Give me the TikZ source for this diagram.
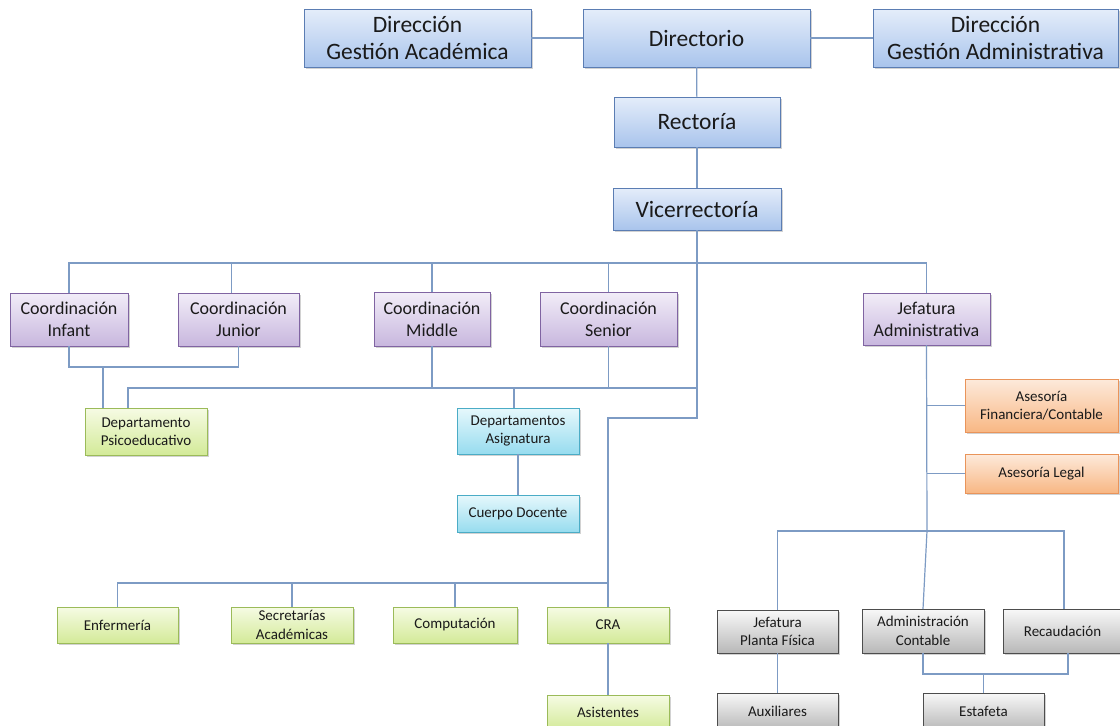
\documentclass[tikz,border=0pt]{standalone}
\usepackage{fontspec}
\setmainfont{Carlito}
\usetikzlibrary{shadows}
\definecolor{lnc}{HTML}{7D9BC4}
\definecolor{txt}{HTML}{1A1A1A}
\definecolor{blued}{HTML}{5B7DB3}
\definecolor{bluetop}{HTML}{E4EDFA}
\definecolor{bluebot}{HTML}{A9C4EC}
\definecolor{purpd}{HTML}{8064A2}
\definecolor{purpt}{HTML}{F2EDF8}
\definecolor{purpb}{HTML}{C8B7DE}
\definecolor{greend}{HTML}{9BBB59}
\definecolor{greent}{HTML}{F6FBE4}
\definecolor{greenb}{HTML}{D3EA98}
\definecolor{cyand}{HTML}{4BACC6}
\definecolor{cyant}{HTML}{E6F8FC}
\definecolor{cyanb}{HTML}{97DCEF}
\definecolor{orad}{HTML}{E9945A}
\definecolor{orat}{HTML}{FDEADB}
\definecolor{orab}{HTML}{F8B784}
\definecolor{grayd}{HTML}{4D4D4D}
\definecolor{grayt}{HTML}{F8F8F8}
\definecolor{grayb}{HTML}{B8B8B8}
\tikzset{
  box/.style={draw, line width=0.8pt, inner sep=0pt, outer sep=0pt, align=center, text=txt,
    drop shadow={shadow xshift=1.5pt, shadow yshift=-2pt, opacity=0.35}},
  bluebox/.style={box, draw=blued, top color=bluetop, bottom color=bluebot, font=\fontsize{23.5}{28}\selectfont},
  purplebox/.style={box, draw=purpd, top color=purpt, bottom color=purpb, font=\fontsize{18}{22}\selectfont},
  greenbox/.style={box, draw=greend, top color=greent, bottom color=greenb, font=\fontsize{15}{18.5}\selectfont},
  cyanbox/.style={box, draw=cyand, top color=cyant, bottom color=cyanb, font=\fontsize{15}{18.5}\selectfont},
  orangebox/.style={box, draw=orad, top color=orat, bottom color=orab, font=\fontsize{15}{18.5}\selectfont},
  graybox/.style={box, draw=grayd, top color=grayt, bottom color=grayb, font=\fontsize{15}{18.5}\selectfont},
  conn/.style={draw=lnc, line width=1.2pt}
}
\begin{document}
\begin{tikzpicture}[x=1pt,y=-1pt]
\fill[white] (0,0) rectangle (1120,726);
\useasboundingbox (0,0) rectangle (1120,726);
% blue
\node[bluebox, minimum width=227pt, minimum height=58pt] (dga) at (417.5,38) {Dirección\\Gestión Académica};
\node[bluebox, minimum width=227pt, minimum height=58pt] (dir) at (696.5,38) {Directorio};
\node[bluebox, minimum width=245pt, minimum height=58pt] (dgad) at (995.5,38) {Dirección\\Gestión Administrativa};
\node[bluebox, minimum width=166pt, minimum height=50pt] (rec) at (697,122) {Rectoría};
\node[bluebox, minimum width=168pt, minimum height=42pt] (vic) at (697,209) {Vicerrectoría};
% purple
\node[purplebox, minimum width=118pt, minimum height=53pt] (infant) at (69,319.5) {Coordinación\\Infant};
\node[purplebox, minimum width=121pt, minimum height=53pt] (junior) at (238.5,319.5) {Coordinación\\Junior};
\node[purplebox, minimum width=116pt, minimum height=54pt] (middle) at (432,319) {Coordinación\\Middle};
\node[purplebox, minimum width=137pt, minimum height=54pt] (senior) at (608.5,319) {Coordinación\\Senior};
\node[purplebox, minimum width=127pt, minimum height=52pt] (jefadm) at (926.5,319) {Jefatura\\Administrativa};
% green / cyan / orange
\node[greenbox, minimum width=122pt, minimum height=47pt] (psico) at (146,431.5) {Departamento\\Psicoeducativo};
\node[cyanbox, minimum width=122pt, minimum height=46pt] (depasig) at (518,431) {Departamentos\\Asignatura};
\node[cyanbox, minimum width=122pt, minimum height=37pt] (cuerpo) at (518,513.5) {Cuerpo Docente};
\node[orangebox, minimum width=153pt, minimum height=53pt] (asfin) at (1041.5,405.5) {Asesoría\\Financiera/Contable};
\node[orangebox, minimum width=153pt, minimum height=39pt] (aslegal) at (1041.5,473.5) {Asesoría Legal};
\node[greenbox, minimum width=121pt, minimum height=36pt] (enf) at (117.5,625) {Enfermería};
\node[greenbox, minimum width=122pt, minimum height=36pt] (sec) at (292,625) {Secretarías\\Académicas};
\node[greenbox, minimum width=124pt, minimum height=36pt] (comp) at (455,625) {Computación};
\node[greenbox, minimum width=122pt, minimum height=36pt] (cra) at (608,625) {CRA};
\node[greenbox, minimum width=122pt, minimum height=35pt] (asis) at (608,712.5) {Asistentes};
% gray
\node[graybox, minimum width=121pt, minimum height=43pt] (jpf) at (777.5,631.5) {Jefatura\\Planta Física};
\node[graybox, minimum width=122pt, minimum height=44pt] (admc) at (923,631) {Administración\\Contable};
\node[graybox, minimum width=119pt, minimum height=44pt] (recaud) at (1062.5,631) {Recaudación};
\node[graybox, minimum width=121pt, minimum height=37pt] (aux) at (777.5,711.5) {Auxiliares};
\node[graybox, minimum width=121pt, minimum height=37pt] (estaf) at (983.5,711.5) {Estafeta};
% helper coordinates
\coordinate (h263) at (0,263);
\coordinate (m388) at (697,388);
\coordinate (m418) at (697,418);
\coordinate (b583) at (608,583);
\coordinate (jj) at (927,531);
% connectors
\draw[conn] (dga) -- (dir);
\draw[conn] (dir) -- (dgad);
\draw[conn] (dir) -- (rec);
\draw[conn] (rec) -- (vic);
\draw[conn] (vic.south) -- (m418) -| (cra.north);
\draw[conn] (infant.north) |- (jefadm.north |- h263) -- (jefadm.north);
\draw[conn] ([xshift=-7pt]junior.north) -- ([xshift=-7pt]junior.north |- h263);
\draw[conn] (middle.north) -- (middle.north |- h263);
\draw[conn] (senior.north) -- (senior.north |- h263);
\draw[conn] (infant.south) -- ++(0,21) -| (junior.south);
\draw[conn] ([xshift=-43pt]psico.north) -- ++(0,-41);
\draw[conn] ([xshift=-18pt]psico.north) |- (m388);
\draw[conn] (middle.south) -- (middle.south |- m388);
\draw[conn] (senior.south) -- (senior.south |- m388);
\draw[conn] ([xshift=-4pt]depasig.north) -- ([xshift=-4pt]depasig.north |- m388);
\draw[conn] (depasig) -- (cuerpo);
\draw[conn] (enf.north) |- (b583);
\draw[conn] (sec.north) -- (sec.north |- b583);
\draw[conn] (comp.north) -- (comp.north |- b583);
\draw[conn] (cra) -- (asis);
\draw[conn] (jefadm.south) -- (jj) -- (admc.north);
\draw[conn] (asfin.west) -- (asfin.west -| jefadm.south);
\draw[conn] (aslegal.west) -- (aslegal.west -| jefadm.south);
\draw[conn] (jpf.north) |- ([xshift=1.5pt]recaud.north |- jj) -- ([xshift=1.5pt]recaud.north);
\draw[conn] (jpf) -- (aux);
\draw[conn] (admc.south) -- ++(0,21) -| ([xshift=5.5pt]recaud.south);
\draw[conn] (estaf.north) -- ++(0,-19);
\end{tikzpicture}
\end{document}
